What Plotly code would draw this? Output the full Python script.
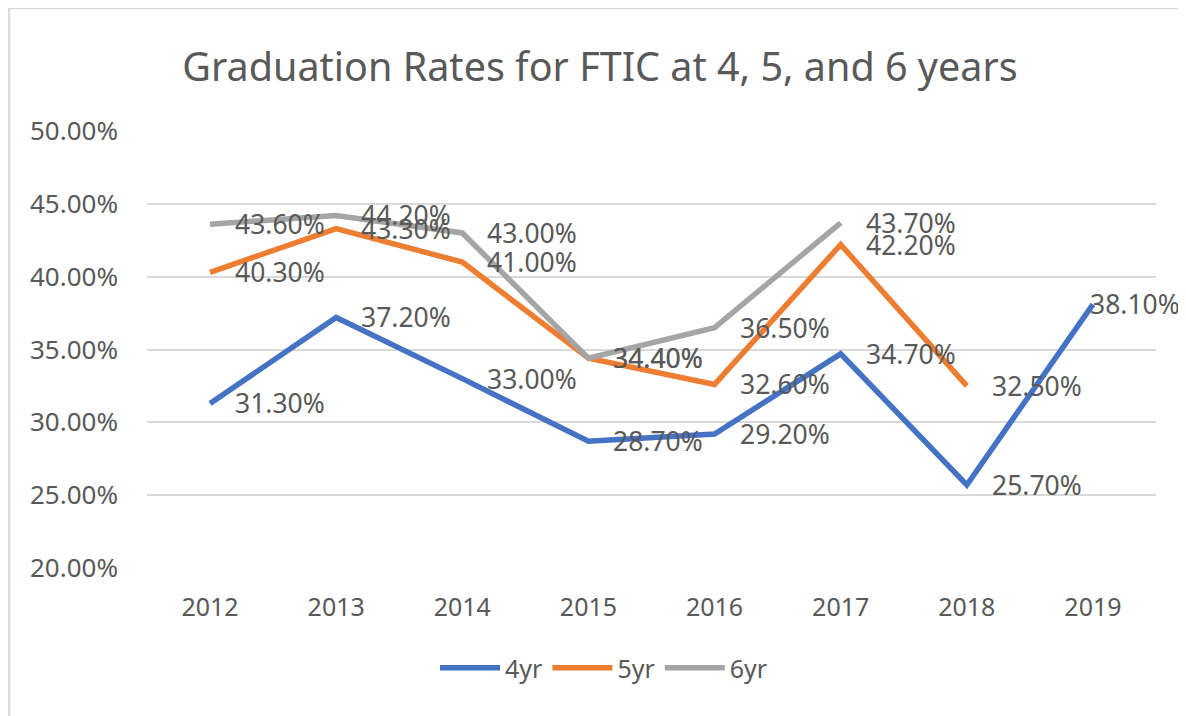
import plotly.graph_objects as go

years = ["2012", "2013", "2014", "2015", "2016", "2017", "2018", "2019"]
rate_4yr = [31.3, 37.2, 33.0, 28.7, 29.2, 34.7, 25.7, 38.1]
rate_5yr = [40.3, 43.3, 41.0, 34.4, 32.6, 42.2, 32.5]
rate_6yr = [43.6, 44.2, 43.0, 34.4, 36.5, 43.7]
series_names = ["4yr", "5yr", "6yr"]
series_colors = ["#4472C4", "#ED7D31", "#A5A5A5"]
y_ticks = [20, 25, 30, 35, 40, 45, 50]
title_text = "Graduation Rates for FTIC at 4, 5, and 6 years"

FONT = "Noto Sans"
TXT = "#595959"
W, H = 1186, 716
OFF = 8  # page body margin offset
L, R, T, B = 147 - OFF, 30 + OFF, 131 - OFF, 148 + OFF
PW, PH = W - L - R, H - T - B

fig = go.Figure()
all_series = [rate_4yr, rate_5yr, rate_6yr]
for name, vals, col in zip(series_names, all_series, series_colors):
    fig.add_trace(go.Scatter(
        x=years[:len(vals)], y=vals, name=name, mode="lines",
        line=dict(color=col, width=5.5), hoverinfo="skip"))

# data labels (right of each point, pulled back inside at the far edge)
annotations = []
for vals in all_series:
    for i, v in enumerate(vals):
        last = (i == len(years) - 1)
        annotations.append(dict(
            x=i, y=v, xref="x", yref="y", text=f"{v:.2f}%",
            showarrow=False, xanchor="left", yanchor="middle",
            xshift=-5 if last else 23,
            font=dict(family=FONT, size=26.5, color=TXT)))

fig.update_layout(
    width=W, height=H,
    margin=dict(l=L, r=R, t=T, b=B, autoexpand=False),
    paper_bgcolor="white", plot_bgcolor="white",
    title=dict(text=title_text, x=(600 - OFF) / W, xref="container", xanchor="center",
               y=1 - (67 - OFF) / H, yref="container", yanchor="middle",
               font=dict(family=FONT, size=39.5, color=TXT)),
    xaxis=dict(type="category", categoryorder="array", categoryarray=years,
               showgrid=False, showline=False, zeroline=False,
               range=[-0.5, len(years) - 0.5], ticks="", ticklabelstandoff=22,
               tickfont=dict(family=FONT, size=25, color=TXT)),
    yaxis=dict(range=[20, 50], tickvals=y_ticks,
               ticktext=[f"{t:.2f}%" for t in y_ticks],
               showgrid=True, gridcolor="#D9D9D9", gridwidth=2,
               zeroline=False, showline=False, ticks="", ticklabelstandoff=28,
               tickfont=dict(family=FONT, size=26, color=TXT)),
    legend=dict(orientation="h", xref="container", x=(604 - OFF) / W, xanchor="center",
                yref="container", y=1 - (668 - OFF) / H, yanchor="middle",
                font=dict(family=FONT, size=25, color=TXT),
                itemwidth=60, tracegroupgap=0),
    annotations=annotations,
    shapes=[dict(type="rect", xref="paper", yref="paper",
                 x0=(9 - OFF - L) / PW, x1=1.2,
                 y0=-0.5, y1=(H - B - (8 - OFF)) / PH,
                 line=dict(color="#D9D9D9", width=2.5), layer="below")],
)

fig.write_html("out.html")
